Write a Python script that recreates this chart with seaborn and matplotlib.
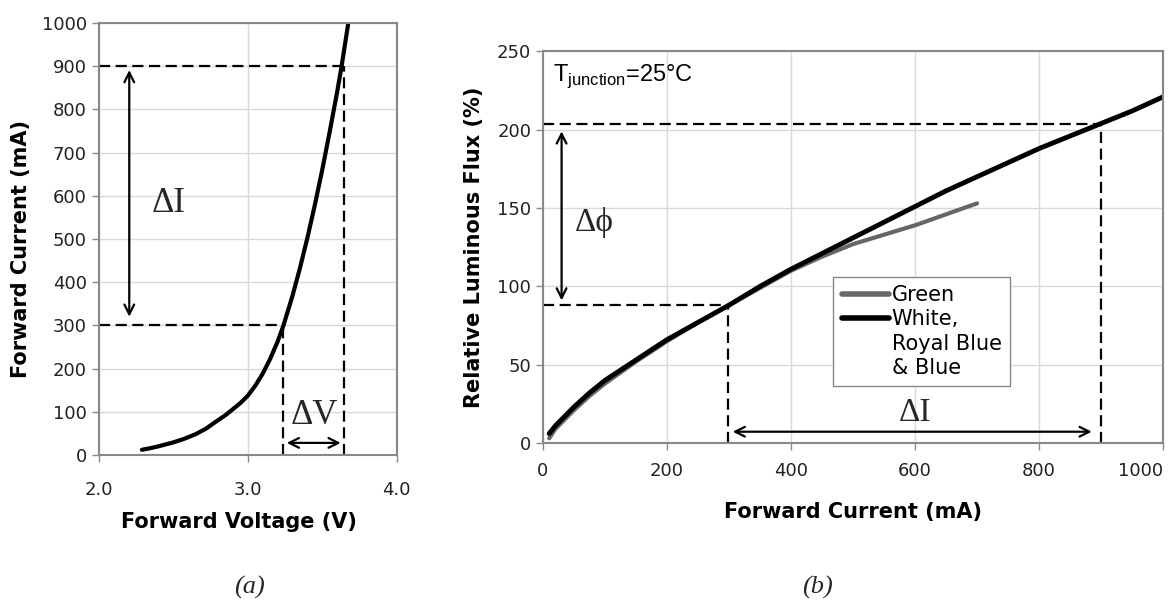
import matplotlib
matplotlib.use("Agg")
import matplotlib.pyplot as plt
from matplotlib.lines import Line2D
import seaborn as sns

# (a) I-V curve
volt = [2.29, 2.35, 2.40, 2.50, 2.57, 2.65, 2.72, 2.79, 2.85, 2.90, 2.95, 3.00, 3.05, 3.10,
        3.15, 3.20, 3.24, 3.30, 3.35, 3.40, 3.45, 3.50, 3.55, 3.60, 3.63, 3.675]
curr = [12, 16, 20, 29, 37, 48, 61, 78, 92, 106, 120, 137, 160, 188,
        222, 262, 300, 368, 432, 502, 578, 660, 748, 840, 900, 1000]

# (b) relative flux vs current
i_white = [10, 20, 35, 50, 75, 100, 150, 200, 250, 300, 350, 400, 450, 500, 550, 600, 650, 700,
           750, 800, 850, 900, 950, 1000]
flux_white = [6, 11, 17, 23, 32, 40, 53, 66, 77, 88, 100, 111, 121, 131, 141, 151, 161, 170,
              179, 188, 196, 204, 212, 221]
i_green = [10, 20, 35, 50, 75, 100, 150, 200, 250, 300, 350, 400, 450, 500, 550, 600, 650, 700]
flux_green = [3, 9, 15, 21, 30, 38, 52, 65, 77, 88, 99, 110, 119, 127, 133, 139, 146, 153]

# guide lines
dv_lo, dv_hi = 3.24, 3.645
di_lo_a, di_hi_a = 300, 900
di_lo_b, di_hi_b = 298, 900
phi_lo, phi_hi = 88, 204

sns.set_style("whitegrid")
plt.rcParams['font.family'] = ['DejaVu Sans']

GRID = '#d9d9d9'
SPINE = '#888888'
SERIF = ['Liberation Serif', 'DejaVu Serif']
dash = dict(color='black', lw=1.6, ls=(0, (5, 2.5)))
arrow = dict(arrowstyle="<->,head_length=0.7,head_width=0.35", lw=1.6, color='black',
             shrinkA=0, shrinkB=0)

fig = plt.figure(figsize=(11.71, 6.0), dpi=100)
ax1 = fig.add_axes([0.0843, 0.2417, 0.2545, 0.72])
ax2 = fig.add_axes([0.4637, 0.2617, 0.5295, 0.6525])

for ax in (ax1, ax2):
    ax.grid(True, color=GRID, lw=1)
    for s in ax.spines.values():
        s.set_color(SPINE)
        s.set_linewidth(1.5)
    ax.tick_params(direction='out', length=5, width=1, color=SPINE, labelsize=13,
                   labelcolor='#222222', left=True, bottom=True)
ax1.tick_params(axis='x', pad=14)
ax2.tick_params(axis='x', pad=9)

# ---- panel (a)
sns.lineplot(x=volt, y=curr, ax=ax1, color='black', lw=3, sort=False, estimator=None)
ax1.set_xlim(2.0, 4.0)
ax1.set_ylim(0, 1000)
ax1.set_xticks([2.0, 3.0, 4.0])
ax1.set_xticklabels(['2.0', '3.0', '4.0'])
ax1.set_yticks(range(0, 1001, 100))
ax1.plot([2.0, dv_hi], [di_hi_a, di_hi_a], **dash)
ax1.plot([dv_hi, dv_hi], [0, di_hi_a], **dash)
ax1.plot([2.0, dv_lo], [di_lo_a, di_lo_a], **dash)
ax1.plot([dv_lo, dv_lo], [0, di_lo_a], **dash)
ax1.annotate('', xy=(2.205, 891), xytext=(2.205, 320), arrowprops=arrow)
ax1.annotate('', xy=(3.262, 28), xytext=(3.624, 28), arrowprops=arrow)
ax1.text(2.47, 582, 'ΔI', family=SERIF, fontsize=25, ha='center', va='center')
ax1.text(3.445, 92, 'ΔV', family=SERIF, fontsize=25, ha='center', va='center')
ax1.set_xlabel('Forward Voltage (V)', fontsize=15, fontweight='bold', color='black')
ax1.set_ylabel('Forward Current (mA)', fontsize=15, fontweight='bold', color='black')
ax1.xaxis.set_label_coords(0.47, -0.132)
ax1.yaxis.set_label_coords(-0.227, 0.477)

# ---- panel (b)
sns.lineplot(x=i_green, y=flux_green, ax=ax2, color='#666666', lw=3, sort=False, estimator=None)
sns.lineplot(x=i_white, y=flux_white, ax=ax2, color='black', lw=3.5, sort=False, estimator=None)
ax2.set_xlim(0, 1000)
ax2.set_ylim(0, 250)
ax2.set_xticks(range(0, 1001, 200))
ax2.set_yticks(range(0, 251, 50))
ax2.get_xticklabels()[-1].set_horizontalalignment('right')
ax2.plot([0, di_hi_b], [phi_hi, phi_hi], **dash)
ax2.plot([di_hi_b, di_hi_b], [0, phi_hi], **dash)
ax2.plot([0, di_lo_b], [phi_lo, phi_lo], **dash)
ax2.plot([di_lo_b, di_lo_b], [0, phi_lo], **dash)
ax2.annotate('', xy=(30, 199), xytext=(30, 91), arrowprops=arrow)
ax2.annotate('', xy=(306, 7.2), xytext=(885, 7.2), arrowprops=arrow)
ax2.text(83, 141, 'Δϕ', family=SERIF, fontsize=24, ha='center', va='center')
ax2.text(600, 19, 'ΔI', family=SERIF, fontsize=24, ha='center', va='center')
ax2.text(16, 231, r'T$_{\mathregular{junction}}$=25°C', family=['Liberation Sans', 'DejaVu Sans'],
         fontsize=17, color='black', ha='left', va='baseline')
ax2.set_xlabel('Forward Current (mA)', fontsize=15, fontweight='bold', color='black')
ax2.set_ylabel('Relative Luminous Flux (%)', fontsize=15, fontweight='bold', color='black')
ax2.xaxis.set_label_coords(0.5, -0.151)
ax2.yaxis.set_label_coords(-0.095, 0.499)

handles = [Line2D([], [], color='#666666', lw=4, solid_capstyle='round'),
           Line2D([], [], color='black', lw=4, solid_capstyle='round'),
           Line2D([], [], color='none'),
           Line2D([], [], color='none')]
labels = ['Green', 'White,', 'Royal Blue', '& Blue']
leg = ax2.legend(handles, labels, loc='upper left', bbox_to_anchor=(0.468, 0.424),
                 borderaxespad=0, fontsize=15, frameon=True, fancybox=False,
                 framealpha=1, edgecolor=SPINE, handlelength=2.3, handletextpad=0.1,
                 labelspacing=0.2, borderpad=0.4)
leg.get_frame().set_linewidth(1)
for t in leg.get_texts():
    t.set_color('black')

fig.text(249 / 1171, 1 - 587 / 600, '(a)', family=SERIF, style='italic', fontsize=19,
         ha='center', va='center')
fig.text(817 / 1171, 1 - 587 / 600, '(b)', family=SERIF, style='italic', fontsize=19,
         ha='center', va='center')

fig.savefig('out.png', dpi=100, facecolor='white')
